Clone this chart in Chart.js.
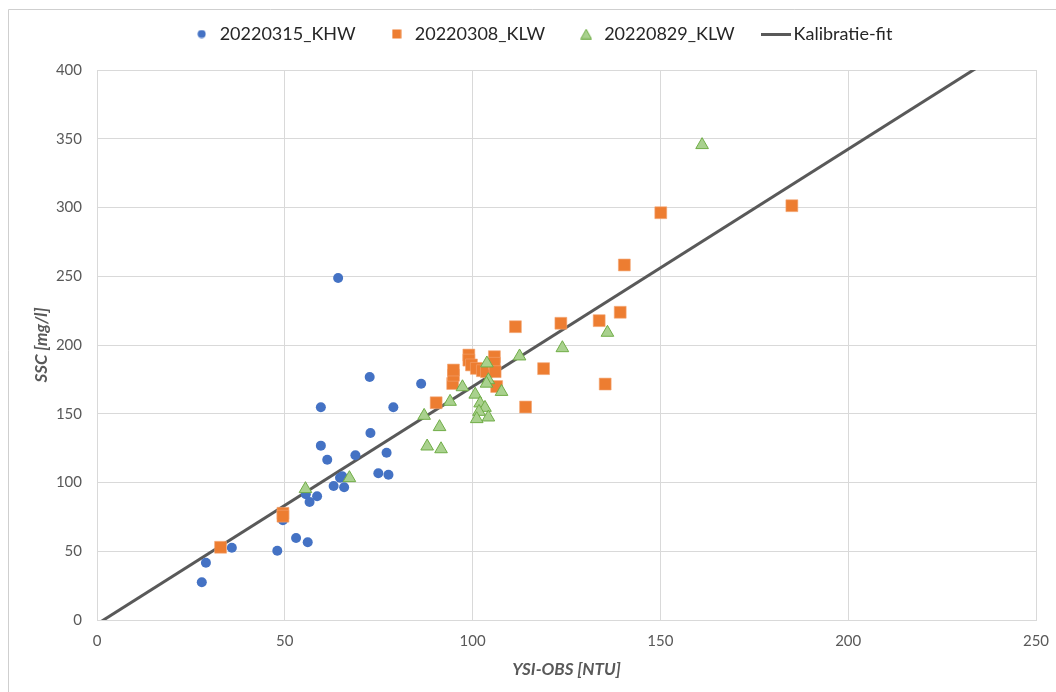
<!DOCTYPE html>
<html>
<head>
<meta charset="utf-8">
<script src="https://cdn.jsdelivr.net/npm/chart.js@4.4.1/dist/chart.umd.min.js"></script>
<style>
  html, body { margin: 0; padding: 0; background: #ffffff; }
  canvas { display: block; }
</style>
</head>
<body>
<canvas id="chart" width="1056" height="692"></canvas>
<script>
// Series 20220315_KHW (YSI-OBS [NTU] vs SSC [mg/l])
const khwX = [27.9, 29.0, 35.9, 48.0, 49.5, 53.0, 56.1, 55.6, 56.6, 58.6, 59.6, 61.3, 63.0,
              64.7, 65.3, 65.8, 68.8, 74.9, 77.1, 77.6, 64.2, 72.6, 86.3, 59.6, 78.9, 72.8];
const khwY = [27.4, 41.7, 52.6, 50.4, 72.5, 59.6, 56.5, 91.4, 85.8, 90.0, 126.8, 116.6, 97.5,
              103.5, 104.5, 96.5, 119.8, 106.7, 121.7, 105.6, 248.7, 176.7, 171.8, 154.7, 154.7, 136.0];

// Series 20220308_KLW
const klw0308X = [32.9, 49.5, 49.5, 90.3, 94.7, 94.9, 94.9, 99.0, 99.0, 99.7, 101.0, 102.6, 103.7,
                  105.8, 105.8, 106.0, 106.4, 111.4, 114.1, 118.9, 123.5, 133.7, 139.3, 135.3,
                  140.4, 150.1, 185.0];
const klw0308Y = [52.9, 77.6, 75.5, 158.0, 172.0, 178.0, 181.8, 192.7, 189.0, 185.5, 183.0, 181.3, 180.6,
                  191.5, 186.7, 180.6, 169.8, 213.3, 154.9, 182.8, 215.8, 217.7, 223.8, 171.6,
                  258.2, 296.2, 301.3];

// Series 20220829_KLW
const klw0829X = [55.5, 67.2, 87.1, 87.9, 91.2, 91.6, 94.0, 97.3, 100.7, 102.0, 103.3, 101.7,
                  101.1, 104.2, 103.8, 104.2, 103.7, 107.7, 112.5, 123.9, 135.9, 161.1];
const klw0829Y = [95.3, 103.3, 148.6, 126.3, 140.4, 124.3, 158.8, 169.4, 164.0, 157.6, 154.4, 151.5,
                  146.2, 147.4, 186.7, 174.5, 172.0, 166.0, 191.8, 197.8, 209.0, 345.5];

// Calibration fit line end points
const fitX = [0, 250];
const fitY = [-3.0, 428.8];

// Legend / axis text
const seriesNames = ['20220315_KHW', '20220308_KLW', '20220829_KLW', 'Kalibratie-fit'];
const xTitle = 'YSI-OBS [NTU]';
const yTitle = 'SSC [mg/l]';
const xTicks = { min: 0, max: 250, step: 50 };
const yTicks = { min: 0, max: 400, step: 50 };

const toPoints = (xs, ys) => xs.map((x, i) => ({ x: x, y: ys[i] }));

const BLUE = '#4472C4';
const ORANGE = '#ED7D31';
const GREEN_FILL = '#A9D18E';
const GREEN_EDGE = '#70AD47';
const FIT = '#595959';
const AXIS_TEXT = '#595959';
const GRID = '#d9d9d9';
const FONT = 'Lato, "Open Sans", sans-serif';

// Small legend glyphs
function glyph(w, h, paint) {
  const c = document.createElement('canvas');
  c.width = w; c.height = h;
  paint(c.getContext('2d'), w, h);
  return c;
}
const legendGlyphs = [
  glyph(9, 9, (g, w, h) => { g.fillStyle = BLUE; g.beginPath(); g.arc(w / 2, h / 2, 4, 0, Math.PI * 2); g.fill(); }),
  glyph(10, 10, (g, w, h) => { g.fillStyle = ORANGE; g.fillRect(0.5, 0.5, 9, 9); }),
  glyph(12, 11, (g, w, h) => {
    g.fillStyle = GREEN_FILL; g.strokeStyle = GREEN_EDGE; g.lineWidth = 1;
    g.beginPath(); g.moveTo(6, 0.8); g.lineTo(11.3, 10.3); g.lineTo(0.7, 10.3); g.closePath();
    g.fill(); g.stroke();
  }),
  glyph(30, 3, (g, w, h) => { g.fillStyle = FIT; g.fillRect(0, 0, 30, 3); })
];

// Fixed plot geometry: legend band, axis label bands
const LEGEND_H = 60;
const LEGEND_DX = 10;
const LEGEND_DY = -17;
const frameAndLegend = {
  id: 'frameAndLegend',
  beforeLayout(chart) {
    const lg = chart.legend;
    if (lg && !lg.__fixedHeight) {
      const fit = lg.fit.bind(lg);
      lg.fit = function () { fit(); this.height = LEGEND_H; };
      lg.__fixedHeight = true;
    }
  },
  afterLayout(chart) {
    const lg = chart.legend;
    if (lg) {
      lg.left += LEGEND_DX; lg.right += LEGEND_DX;
      lg.top += LEGEND_DY; lg.bottom += LEGEND_DY;
    }
  },
  beforeDraw(chart) {
    const g = chart.ctx;
    g.save();
    g.fillStyle = '#ffffff';
    g.fillRect(0, 0, chart.width, chart.height);
    g.strokeStyle = '#cfcfcf';
    g.lineWidth = 1;
    g.beginPath();
    g.moveTo(8.5, chart.height);
    g.lineTo(8.5, 9.5);
    g.lineTo(chart.width, 9.5);
    g.stroke();
    g.restore();
  }
};

new Chart(document.getElementById('chart'), {
  type: 'scatter',
  data: {
    datasets: [
      {
        label: seriesNames[0], data: toPoints(khwX, khwY), order: 3,
        pointStyle: 'circle', pointRadius: 5, pointHoverRadius: 5,
        backgroundColor: BLUE, borderColor: BLUE, borderWidth: 0
      },
      {
        label: seriesNames[1], data: toPoints(klw0308X, klw0308Y), order: 2,
        pointStyle: 'rect', pointRadius: 8.4, pointHoverRadius: 8.4,
        backgroundColor: ORANGE, borderColor: '#f4a472', borderWidth: 0.6
      },
      {
        label: seriesNames[2], data: toPoints(klw0829X, klw0829Y), order: 1,
        pointStyle: 'triangle', pointRadius: 7.3, pointHoverRadius: 7.3,
        backgroundColor: GREEN_FILL, borderColor: GREEN_EDGE, borderWidth: 1
      },
      {
        type: 'line', label: seriesNames[3], data: toPoints(fitX, fitY), order: 4,
        showLine: true, pointRadius: 0, pointHoverRadius: 0,
        borderColor: FIT, backgroundColor: FIT, borderWidth: 3, fill: false, tension: 0
      }
    ]
  },
  options: {
    responsive: false,
    animation: false,
    devicePixelRatio: 1,
    layout: { padding: { top: 10, left: 9, right: 0, bottom: 0 } },
    plugins: {
      tooltip: { enabled: false },
      legend: {
        position: 'top',
        align: 'center',
        labels: {
          usePointStyle: true,
          padding: 32,
          color: '#262626',
          font: { family: FONT, size: 18 },
          sort: (a, b) => a.datasetIndex - b.datasetIndex,
          generateLabels(chart) {
            const items = Chart.defaults.plugins.legend.labels.generateLabels(chart);
            items.forEach(it => { it.pointStyle = legendGlyphs[it.datasetIndex]; it.rotation = 0; });
            return items;
          }
        }
      }
    },
    scales: {
      x: {
        type: 'linear',
        min: xTicks.min, max: xTicks.max,
        afterFit(scale) { scale.height = 72; scale.paddingRight = 20; },
        ticks: { stepSize: xTicks.step, color: AXIS_TEXT, padding: 12, font: { family: FONT, size: 15 } },
        grid: { color: GRID, lineWidth: 1, drawTicks: false },
        border: { color: GRID, width: 1 },
        title: {
          display: true, text: xTitle, color: AXIS_TEXT,
          font: { family: FONT, size: 17, weight: 'bold', style: 'italic' },
          padding: { top: 0, bottom: 12 }
        }
      },
      y: {
        type: 'linear',
        min: yTicks.min, max: yTicks.max,
        afterFit(scale) { scale.width = 88; },
        ticks: { stepSize: yTicks.step, color: AXIS_TEXT, padding: 15, font: { family: FONT, size: 15 } },
        grid: { color: GRID, lineWidth: 1, drawTicks: false },
        border: { color: GRID, width: 1 },
        title: {
          display: true, text: yTitle, color: AXIS_TEXT,
          font: { family: FONT, size: 17, weight: 'bold', style: 'italic' },
          padding: { top: 22, bottom: 0 }
        }
      }
    }
  },
  plugins: [frameAndLegend]
});
</script>
</body>
</html>
